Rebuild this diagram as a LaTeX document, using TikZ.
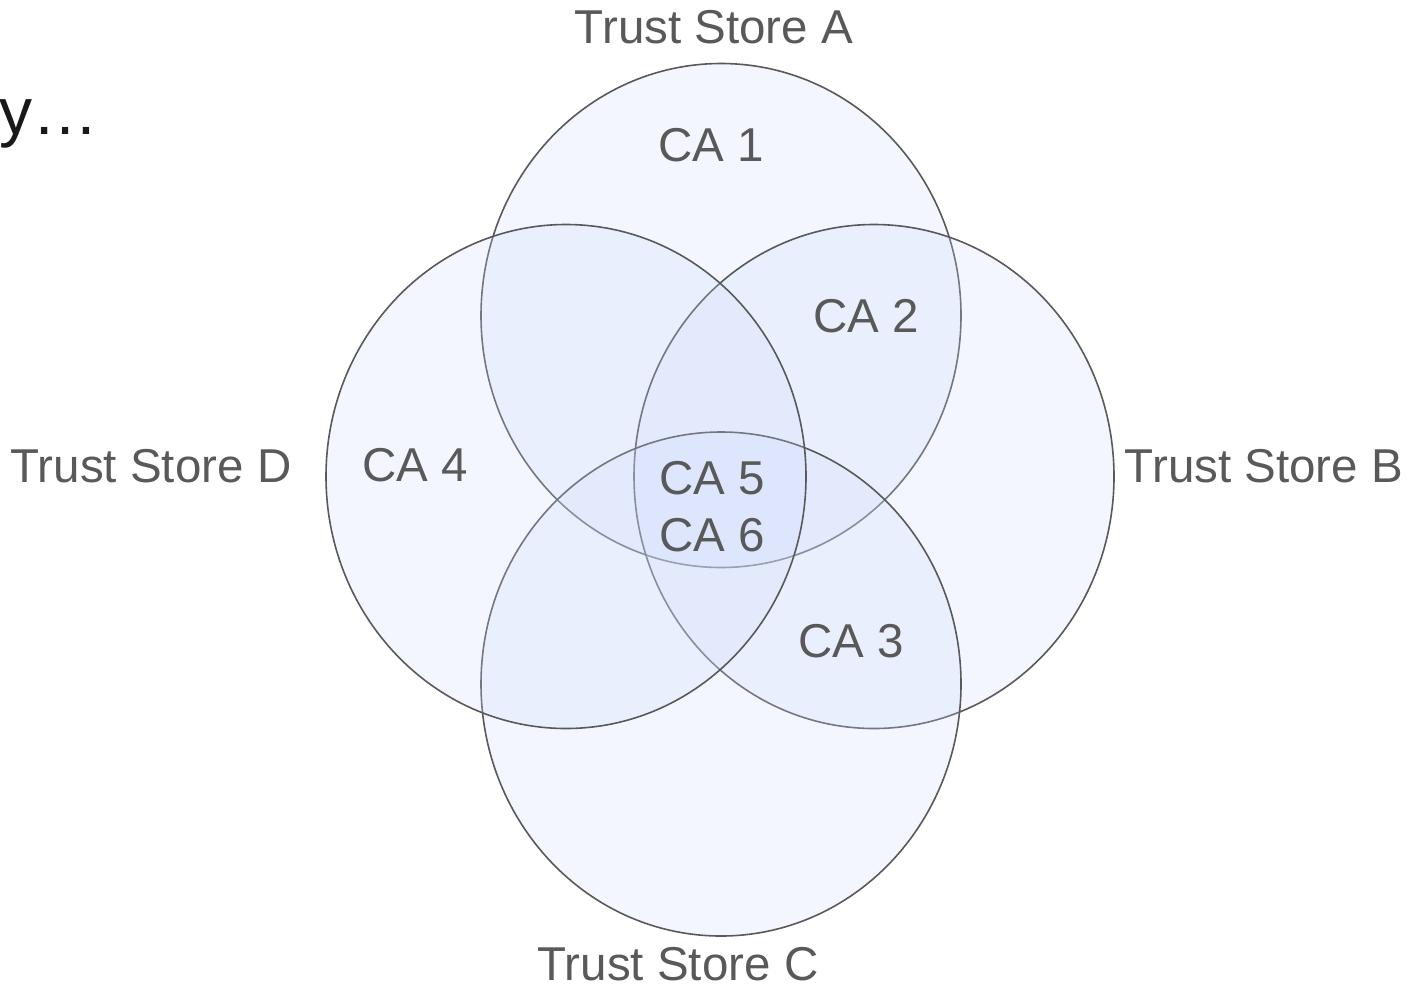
\documentclass[tikz,border=0pt]{standalone}
\usepackage{fontspec}
\setmainfont{Liberation Sans}
\definecolor{setfill}{RGB}{204,218,250}
\definecolor{setline}{RGB}{89,89,89}
\definecolor{labeltext}{RGB}{89,89,89}
\tikzset{
  setshape/.style={ellipse, minimum width=480pt, minimum height=504pt, inner sep=0pt,
    draw=setline, line width=1.6pt, fill=setfill, fill opacity=0.24, draw opacity=1},
  lbl/.style={text=labeltext, inner sep=0pt, anchor=base, font=\fontsize{47.5}{52}\selectfont},
}
\usetikzlibrary{shapes.geometric}
\begin{document}
\begin{tikzpicture}[x=1pt,y=-1pt]
\useasboundingbox (0,0) rectangle (1412,989);
% the four trust stores
\node[setshape] (A) at (721,315.5) {};
\node[setshape] (B) at (874,476.5) {};
\node[setshape] (C) at (721,684) {};
\node[setshape] (D) at (566,476.5) {};
% store names
\node[lbl] (tA) at (714,43) {Trust Store A};
\node[lbl] (tB) at (1264,482) {Trust Store B};
\node[lbl] (tC) at (678,980) {Trust Store C};
\node[lbl] (tD) at (151,482) {Trust Store D};
% certificate authorities
\node[lbl] (ca1) at (711,161) {CA 1};
\node[lbl] (ca2) at (866,332) {CA 2};
\node[lbl] (ca3) at (851,657) {CA 3};
\node[lbl] (ca4) at (415,481) {CA 4};
\node[lbl] (ca5) at (712,494) {CA 5};
\node[lbl] (ca6) at (712,551) {CA 6};
% trailing text from the heading
\node[inner sep=0pt, anchor=base east, font=\fontsize{66}{70}\selectfont, text=black!90] (hd) at (99,134) {y…};
\end{tikzpicture}
\end{document}
